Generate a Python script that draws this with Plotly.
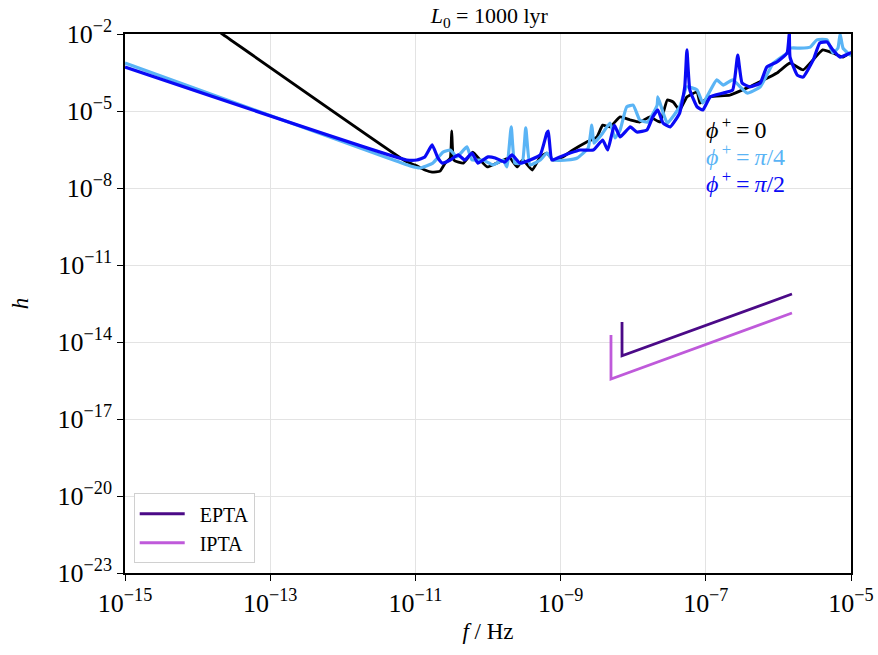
import numpy as np
import plotly.graph_objects as go

# ---- data (log10 f [Hz], log10 h) ----
logf_phi0 = [-14.0, -13.66, -11.12, -11.01, -10.87, -10.77, -10.66, -10.59, -10.52, -10.50, -10.47,
             -10.34, -10.21, -10.11, -10.01, -9.88, -9.70, -9.60, -9.52, -9.39, -9.28, -9.19, -9.10,
             -8.97, -8.83, -8.64, -8.50, -8.42, -8.32, -8.18, -8.04, -7.91, -7.77, -7.63, -7.53,
             -7.45, -7.36, -7.26, -7.12, -7.08, -6.94, -6.67, -6.43, -6.29, -6.02, -5.84, -5.66,
             -5.39, -5.25, -5.11, -5.01, -5.0]
logh_phi0 = [-1.33, -2.0, -6.98, -7.10, -7.30, -7.38, -7.34, -7.03, -6.83, -5.78, -6.91,
             -7.03, -6.60, -6.91, -7.18, -7.03, -6.83, -7.18, -6.91, -7.30, -6.79, -6.64, -6.91,
             -6.79, -6.52, -6.21, -6.01, -5.55, -5.62, -5.23, -5.35, -5.43, -5.23, -5.43, -4.57,
             -4.65, -4.96, -4.45, -4.26, -4.69, -4.45, -4.38, -4.10, -3.91, -3.52, -3.13, -3.40,
             -2.62, -2.74, -2.90, -2.74, -2.74]

logf_phi4 = [-15.0, -11.39, -11.07, -10.94, -10.76, -10.62, -10.52, -10.43, -10.29, -10.22, -10.07,
             -9.93, -9.79, -9.74, -9.68, -9.63, -9.53, -9.48, -9.42, -9.28, -9.19, -9.10, -8.91,
             -8.77, -8.62, -8.57, -8.54, -8.42, -8.32, -8.25, -8.18, -8.09, -8.00, -7.91, -7.80,
             -7.67, -7.66, -7.60, -7.53, -7.36, -7.26, -7.12, -7.04, -6.85, -6.76, -6.63, -6.43,
             -6.25, -6.07, -5.88, -5.84, -5.70, -5.56, -5.47, -5.33, -5.25, -5.18, -5.15, -5.11,
             -5.01, -5.0]
logh_phi4 = [-3.13, -6.82, -7.14, -7.22, -7.03, -6.60, -6.52, -6.79, -6.40, -6.91, -6.91,
             -7.10, -6.91, -7.18, -5.62, -7.03, -7.03, -5.66, -7.10, -6.91, -6.64, -6.91, -6.91,
             -6.83, -6.44, -5.55, -6.25, -5.86, -5.47, -6.05, -5.74, -4.84, -4.77, -5.35, -5.43,
             -4.77, -4.45, -4.96, -5.47, -4.84, -4.06, -4.18, -4.69, -3.79, -3.99, -3.79, -4.30,
             -4.06, -3.13, -2.74, -2.55, -2.55, -2.51, -2.23, -2.23, -2.74, -2.55, -2.0, -2.55,
             -2.82, -2.82]

logf_phi2 = [-15.0, -11.12, -10.98, -10.87, -10.77, -10.69, -10.63, -10.52, -10.41, -10.32, -10.22,
             -10.14, -10.00, -9.90, -9.77, -9.67, -9.56, -9.42, -9.28, -9.19, -9.17, -9.12, -9.01,
             -8.87, -8.73, -8.55, -8.42, -8.35, -8.26, -8.18, -8.04, -7.95, -7.81, -7.73, -7.66,
             -7.59, -7.49, -7.36, -7.29, -7.26, -7.22, -7.12, -7.04, -6.94, -6.76, -6.63, -6.56,
             -6.50, -6.39, -6.25, -6.16, -6.02, -5.88, -5.85, -5.84, -5.74, -5.66, -5.52, -5.43,
             -5.33, -5.25, -5.15, -5.01, -5.0]
logh_phi2 = [-3.29, -6.91, -6.91, -6.79, -6.32, -6.83, -7.03, -6.91, -6.71, -6.91, -6.64,
             -7.03, -6.79, -6.83, -6.99, -6.71, -7.03, -6.91, -6.71, -5.86, -5.78, -6.91, -6.79,
             -6.64, -6.52, -6.52, -6.13, -6.52, -5.55, -6.01, -5.62, -5.82, -5.74, -5.23, -4.96,
             -5.47, -5.62, -5.08, -4.06, -2.62, -4.18, -4.84, -4.96, -4.45, -4.30, -4.18, -2.82,
             -3.91, -4.06, -3.91, -3.29, -3.09, -2.74, -1.96, -2.90, -3.60, -3.68, -3.01, -2.35,
             -2.31, -2.62, -2.90, -2.74, -2.74]

logf_epta = [-8.154, -8.154, -5.813]
logh_epta = [-13.22, -14.54, -12.13]
logf_ipta = [-8.306, -8.306, -5.813]
logh_ipta = [-13.73, -15.44, -12.87]

x_tick_exp = [-15, -13, -11, -9, -7, -5]
y_tick_exp = [-23, -20, -17, -14, -11, -8, -5, -2]

SERIF = "Liberation Serif, Times New Roman, serif"


def pow10(v):
    return np.power(10.0, np.asarray(v, dtype=float))


fig = go.Figure()

curves = [
    (logf_phi0, logh_phi0, "#000000", 2.8),
    (logf_phi4, logh_phi4, "#5ab4f5", 3.2),
    (logf_phi2, logh_phi2, "#0a0af5", 3.2),
]
for lf, lh, col, w in curves:
    fig.add_trace(go.Scatter(x=pow10(lf), y=pow10(lh), mode="lines",
                             line=dict(color=col, width=w, shape="spline", smoothing=0.4),
                             showlegend=False, hoverinfo="skip"))

fig.add_trace(go.Scatter(x=pow10(logf_epta), y=pow10(logh_epta), mode="lines",
                         name="\u2002EPTA", line=dict(color="#4b0a87", width=2.8)))
fig.add_trace(go.Scatter(x=pow10(logf_ipta), y=pow10(logh_ipta), mode="lines",
                         name="\u2002IPTA", line=dict(color="#bf5ada", width=2.8)))

axis_common = dict(
    type="log", showline=True, linecolor="black", linewidth=1.6, mirror=True,
    ticks="outside", ticklen=6, tickwidth=1.3, tickcolor="black",
    showgrid=True, gridcolor="#e3e3e3", gridwidth=1.2, zeroline=False,
    automargin=False,
    tickfont=dict(family=SERIF, size=26, color="black"),
)

fig.update_xaxes(
    **axis_common,
    range=[-15, -5],
    tickvals=[10.0 ** e for e in x_tick_exp],
    ticktext=[f"10<sup>\u2212{-e}</sup>" for e in x_tick_exp],
    title=dict(text="<i>f</i> / Hz", font=dict(family=SERIF, size=23, color="black"),
               standoff=6),
)
fig.update_yaxes(
    **axis_common,
    range=[-23, -2],
    tickvals=[10.0 ** e for e in y_tick_exp],
    ticktext=[f"10<sup>\u2212{-e}</sup>" for e in y_tick_exp],
    title=dict(text="<i>h</i>", font=dict(family=SERIF, size=23, color="black"),
               standoff=22),
)

labels = [
    ("<i>\u03d5</i><sup>\u2009+</sup>\u2009=\u20090", "#000000", 0.826),
    ("<i>\u03d5</i><sup>\u2009+</sup>\u2009=\u2009<i>\u03c0</i>/4", "#5ab4f5", 0.776),
    ("<i>\u03d5</i><sup>\u2009+</sup>\u2009=\u2009<i>\u03c0</i>/2", "#0a0af5", 0.726),
]
for txt, col, yy in labels:
    fig.add_annotation(text=txt, xref="paper", yref="paper", x=0.797, y=yy,
                       xanchor="left", yanchor="middle", showarrow=False,
                       font=dict(family=SERIF, size=24, color=col))

fig.update_layout(
    width=878, height=655,
    margin=dict(l=125, r=27, t=34, b=82),
    paper_bgcolor="white", plot_bgcolor="white",
    title=dict(text="<i>L</i><sub>0</sub> = 1000 lyr", x=0.5573, xanchor="center",
               y=0.988, yanchor="top", font=dict(family=SERIF, size=22, color="black")),
    legend=dict(x=0.012, y=0.148, xanchor="left", yanchor="top",
                bgcolor="white", bordercolor="#d0d0d0", borderwidth=1,
                font=dict(family=SERIF, size=20, color="black"),
                itemwidth=45, tracegroupgap=2),
    showlegend=True,
)

fig.write_html("out.html")
